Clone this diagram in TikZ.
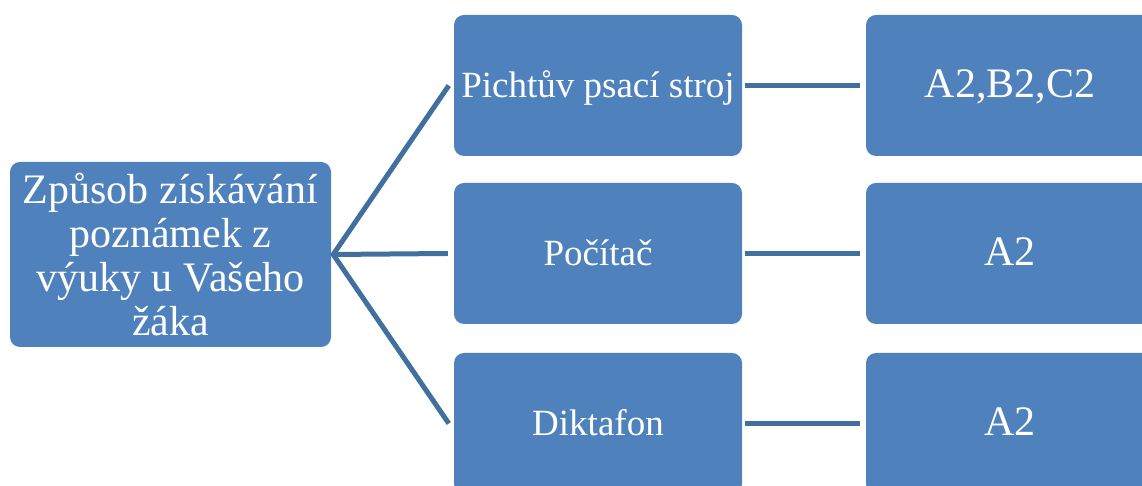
\documentclass[tikz,border=0pt]{standalone}
\usepackage{fontspec}
\setmainfont{Liberation Serif}
\definecolor{boxblue}{HTML}{4F81BD}
\definecolor{lineblue}{HTML}{41709F}
\begin{document}
\begin{tikzpicture}[x=1pt,y=1pt,
  box/.style={fill=boxblue, draw=none, rounded corners=10pt, text=white, inner sep=0pt, align=center},
  leftbox/.style={box, minimum width=321pt, minimum height=185pt, font=\fontsize{42}{43.7}\selectfont},
  midbox/.style={box, minimum width=288pt, minimum height=141pt, text height=25pt, text depth=0pt, font=\fontsize{37}{40}\selectfont},
  rightbox/.style={box, minimum width=288pt, minimum height=141pt, text height=25pt, text depth=0pt, font=\fontsize{42}{44}\selectfont},
  conn/.style={draw=lineblue, line width=5pt, line join=miter}
]
\useasboundingbox (0,0) rectangle (1142,486);
\clip (0,0) rectangle (1142,486);
\node[leftbox] (L) at (170.5,231.5) {Způsob získávání\\poznámek z\\výuky u Vašeho\\žáka};
\node[midbox] (M1) at (598,400.5) {Pichtův psací stroj};
\node[midbox] (M2) at (598,232.5) {Počítač};
\node[midbox] (M3) at (598,62.5) {Diktafon};
\node[rightbox] (R1) at (1010,400.5) {A2,B2,C2};
\node[rightbox] (R2) at (1010,232.5) {A2};
\node[rightbox] (R3) at (1010,62.5) {A2};
\coordinate (hub) at ([xshift=2pt]L.east);
\draw[conn] ([xshift=-5pt]M1.west) -- (hub) -- ([xshift=-5pt]M3.west);
\draw[conn] (hub) -- ([xshift=-6pt]M2.west);
\draw[conn] ([xshift=3pt]M1.east) -- ([xshift=-6pt]R1.west);
\draw[conn] ([xshift=3pt]M2.east) -- ([xshift=-6pt]R2.west);
\draw[conn] ([xshift=3pt]M3.east) -- ([xshift=-6pt]R3.west);
\end{tikzpicture}
\end{document}
